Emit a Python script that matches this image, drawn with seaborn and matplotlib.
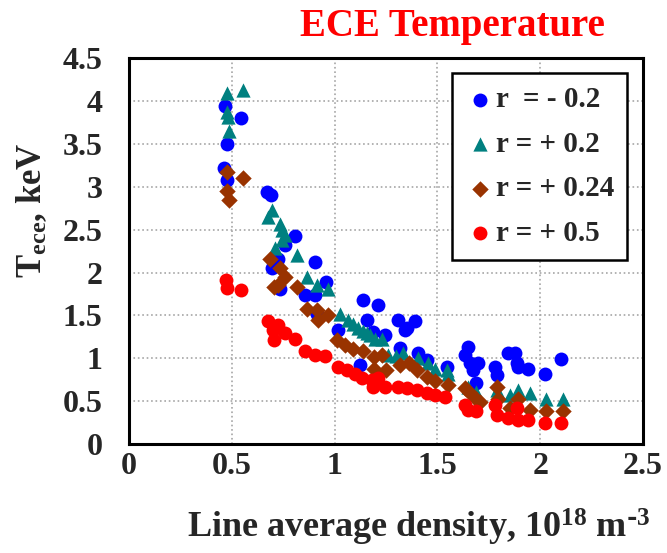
import matplotlib
matplotlib.use("Agg")
import matplotlib.pyplot as plt
import pandas as pd
import seaborn as sns

# r = -0.2
blue_x = [0.467, 0.543, 0.475, 0.464, 0.475, 0.670, 0.689, 0.807, 0.759, 0.726,
          0.905, 0.694, 0.960, 0.856, 0.734, 0.905, 1.140, 1.213, 1.156, 1.310,
          1.390, 1.342, 1.350, 1.018, 1.188, 1.245, 0.913, 1.318, 1.407, 1.124,
          1.448, 1.545, 1.650, 1.634, 1.659, 1.699, 1.675, 1.690, 1.780, 1.788,
          1.845, 1.877, 1.886, 1.890, 1.942, 2.023, 2.100]
blue_y = [3.94, 3.80, 3.50, 3.22, 3.08, 2.94, 2.90, 2.43, 2.32, 2.16,
          2.12, 2.05, 1.89, 1.74, 1.81, 1.74, 1.68, 1.62, 1.45, 1.45,
          1.43, 1.33, 1.35, 1.33, 1.31, 1.27, 1.52, 1.12, 1.06, 0.92,
          0.98, 0.90, 1.13, 1.04, 0.94, 0.94, 0.86, 0.71, 0.90, 0.80,
          1.06, 1.06, 0.94, 0.90, 0.88, 0.82, 0.99]

# r = +0.2
teal_x = [0.475, 0.553, 0.475, 0.483, 0.486, 0.678, 0.694, 0.734, 0.743, 0.759,
          0.743, 0.710, 0.816, 0.864, 0.913, 0.969, 1.026, 1.067, 1.090, 1.115,
          1.140, 1.156, 1.170, 1.196, 1.229, 1.260, 1.300, 1.334, 1.407, 1.456,
          1.488, 1.553, 1.545, 1.650, 1.690, 1.788, 1.853, 1.890, 1.950, 2.030,
          2.110]
teal_y = [4.09, 4.13, 3.87, 3.81, 3.65, 2.65, 2.73, 2.57, 2.49, 2.44,
          2.38, 2.28, 2.20, 1.95, 1.85, 1.81, 1.52, 1.45, 1.40, 1.35,
          1.32, 1.29, 1.27, 1.23, 1.23, 1.04, 1.03, 1.06, 1.00, 0.94,
          0.88, 0.82, 0.86, 0.67, 0.61, 0.63, 0.57, 0.63, 0.59, 0.53,
          0.53]

# r = +0.24
brown_x = [0.475, 0.553, 0.478, 0.486, 0.686, 0.734, 0.759, 0.726, 0.705, 0.816,
           0.864, 0.913, 0.969, 0.920, 1.010, 1.050, 1.090, 1.140, 1.190, 1.230,
           1.190, 1.250, 1.318, 1.360, 1.400, 1.450, 1.490, 1.550, 1.634, 1.659,
           1.690, 1.707, 1.788, 1.797, 1.853, 1.890, 1.950, 2.030, 2.110]
brown_y = [3.17, 3.10, 2.95, 2.84, 2.16, 2.05, 1.95, 1.85, 1.83, 1.83,
           1.58, 1.56, 1.50, 1.45, 1.21, 1.15, 1.11, 1.08, 1.02, 1.04,
           0.88, 0.86, 0.92, 0.94, 0.86, 0.78, 0.73, 0.69, 0.65, 0.59,
           0.53, 0.49, 0.67, 0.53, 0.42, 0.53, 0.40, 0.39, 0.39]

# r = +0.5
red_x = [0.472, 0.475, 0.543, 0.678, 0.726, 0.700, 0.759, 0.705, 0.807, 0.856,
         0.905, 0.955, 1.018, 1.059, 1.100, 1.132, 1.180, 1.213, 1.188, 1.245,
         1.310, 1.350, 1.400, 1.448, 1.488, 1.537, 1.634, 1.650, 1.690, 1.780,
         1.788, 1.845, 1.886, 1.890, 1.942, 2.023, 2.100]
red_y = [1.91, 1.82, 1.80, 1.43, 1.39, 1.33, 1.29, 1.21, 1.22, 1.08,
         1.04, 1.03, 0.90, 0.86, 0.82, 0.77, 0.75, 0.77, 0.67, 0.67,
         0.67, 0.65, 0.63, 0.59, 0.57, 0.55, 0.45, 0.40, 0.38, 0.45,
         0.34, 0.30, 0.42, 0.28, 0.28, 0.24, 0.24]

labels = ["r  = - 0.2", "r = + 0.2", "r = + 0.24", "r = + 0.5"]
colors = ["#0000FF", "#008080", "#993300", "#FF0000"]
markers = ["o", "^", "D", "o"]
sizes = [100, 105, 70, 100]

series = [(blue_x, blue_y), (teal_x, teal_y), (brown_x, brown_y), (red_x, red_y)]
df = pd.concat(
    [pd.DataFrame({"density": sx, "tece": sy, "r": lab})
     for (sx, sy), lab in zip(series, labels)],
    ignore_index=True,
)

sns.set_theme(style="white")
plt.rcParams["font.family"] = ["Liberation Serif", "DejaVu Serif"]
plt.rcParams["font.weight"] = "bold"
plt.rcParams["mathtext.default"] = "regular"

fig = plt.figure(figsize=(6.67, 5.53), dpi=100)
ax = fig.add_axes([0.1934, 0.197, 0.7706, 0.698])

for lab, col, mk, sz in zip(labels, colors, markers, sizes):
    sns.scatterplot(
        data=df[df["r"] == lab], x="density", y="tece",
        color=col, marker=mk, s=sz, linewidth=0, label=lab, ax=ax, zorder=3,
    )

ax.set_xlim(0, 2.5)
ax.set_ylim(0, 4.5)
ax.set_xticks([0, 0.5, 1, 1.5, 2, 2.5])
ax.set_xticklabels(["0", "0.5", "1", "1.5", "2", "2.5"])
ax.set_yticks([0, 0.5, 1, 1.5, 2, 2.5, 3, 3.5, 4, 4.5])
ax.set_yticklabels(["0", "0.5", "1", "1.5", "2", "2.5", "3", "3.5", "4", "4.5"])
ax.grid(True, color="#a6a6a6", linestyle=":", linewidth=1.2, zorder=0)
ax.set_axisbelow(True)
for sp in ax.spines.values():
    sp.set_color("black")
    sp.set_linewidth(2.2)
ax.tick_params(axis="both", direction="out", width=2.2,
               labelsize=23, color="black")
for t in ax.get_xticklabels() + ax.get_yticklabels():
    t.set_fontweight("bold")
ax.tick_params(axis="x", length=6, pad=0)
ax.tick_params(axis="y", length=7, pad=12)

ax.set_xlabel("")
ax.set_ylabel("")
fig.text(0.628, 0.046,
         "Line average density, 10$^{\\mathregular{18}}$ m$^{\\mathregular{\\text{-}3}}$",
         ha="center", va="center", fontsize=26, fontweight="bold")
fig.text(0.048, 0.62, "T$_{\\mathregular{ece}}$, keV", rotation=90,
         ha="center", va="center", fontsize=25, fontweight="bold")
fig.text(0.678, 0.952, "ECE Temperature", color="#FF0000",
         ha="center", va="center", fontsize=28, fontweight="bold")

handles, _ = ax.get_legend_handles_labels()
leg = ax.legend(
    handles, labels, loc="upper right", bbox_to_anchor=(0.969, 0.961),
    borderaxespad=0, frameon=True, fancybox=False, framealpha=1,
    edgecolor="black", prop={"size": 21, "weight": "bold"},
    labelspacing=0.6, handletextpad=0.05, handlelength=1.0, borderpad=0.45,
)
leg.get_frame().set_linewidth(1.8)

fig.savefig("out.png", dpi=100)
